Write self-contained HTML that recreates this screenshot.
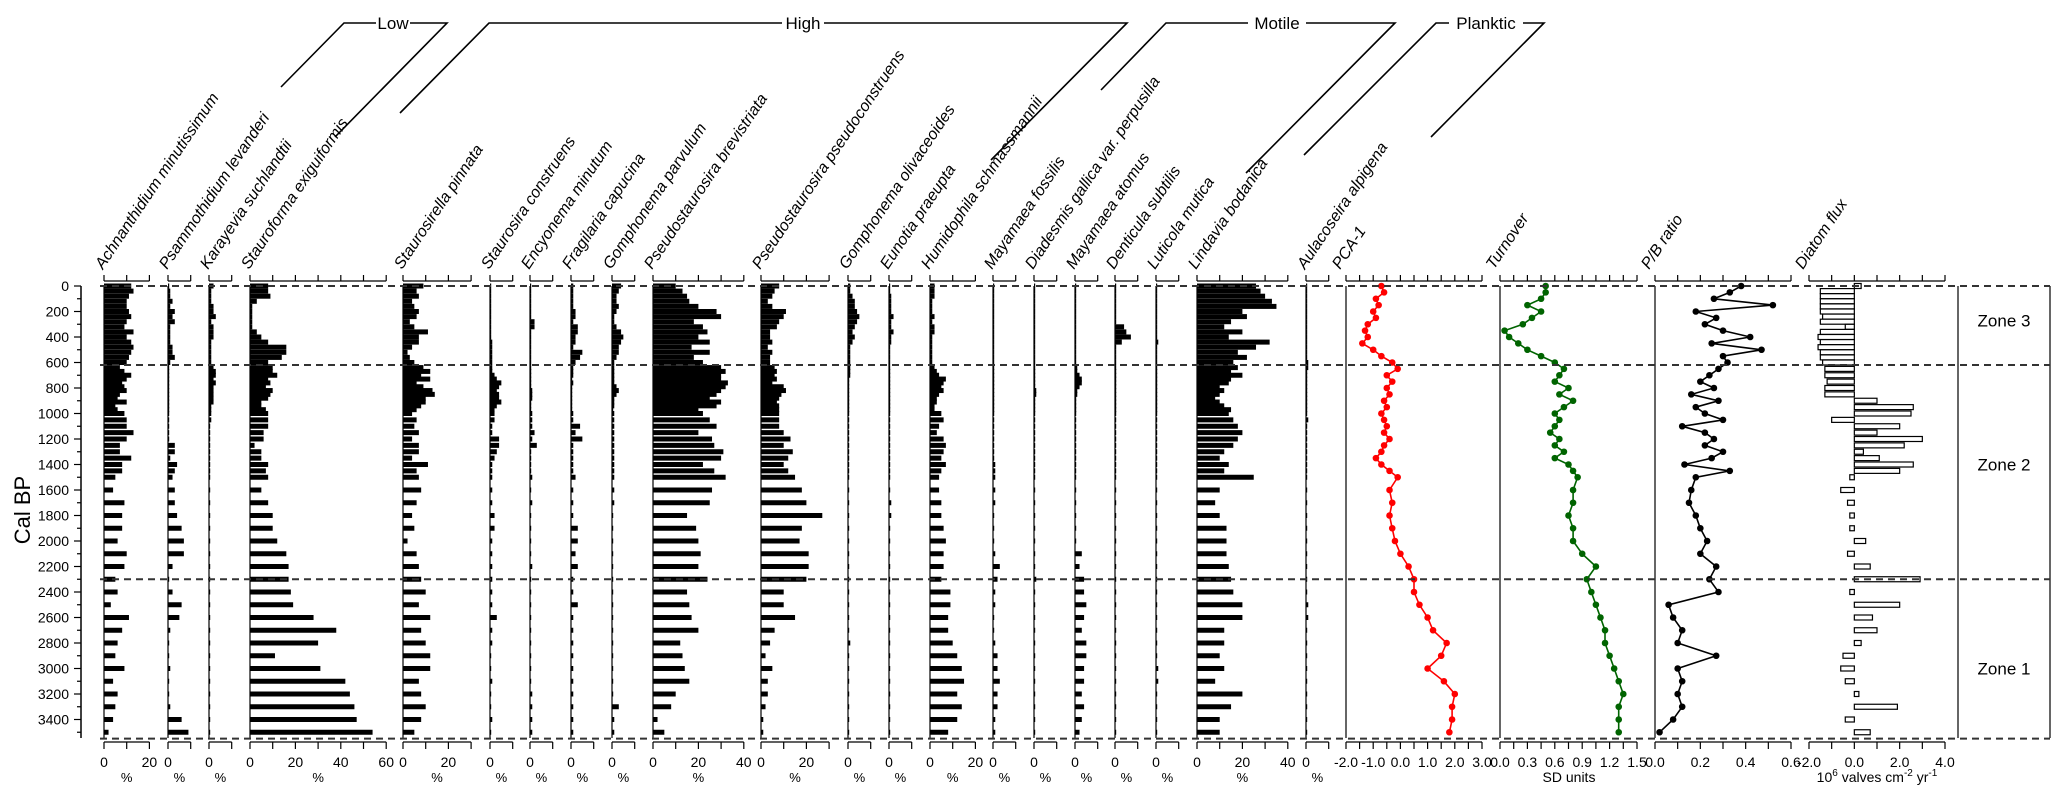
<!DOCTYPE html>
<html><head><meta charset="utf-8"><style>
html,body{margin:0;padding:0;background:#fff;}
svg{display:block;font-family:"Liberation Sans",Arial,sans-serif;}
</style></head><body>
<svg id="chart" width="2067" height="800" viewBox="0 0 2067 800" xmlns="http://www.w3.org/2000/svg"></svg>
<script>
// ---------- DATA ----------
const ages = [0,40,80,120,160,200,240,280,320,360,400,440,480,520,560,600,
 640,670,700,730,760,790,820,850,880,910,940,970,
 1000,1050,1100,1150,1200,1250,1300,1350,1400,1450,1500,
 1600,1700,1800,1900,2000,2100,2200,2300,2400,2500,2600,2700,2800,2900,3000,3100,3200,3300,3400,3500];
const taxaNames = ["Achnanthidium minutissimum","Psammothidium levanderi","Karayevia suchlandtii","Stauroforma exiguiformis","Staurosirella pinnata","Staurosira construens","Encyonema minutum","Fragilaria capucina","Gomphonema parvulum","Pseudostaurosira brevistriata","Pseudostaurosira pseudoconstruens","Gomphonema olivaceoides","Eunotia praeupta","Humidophila schmassmannii","Mayamaea fossilis","Diadesmis gallica var. perpusilla","Mayamaea atomus","Denticula subtilis","Luticola mutica","Lindavia bodanica","Aulacoseira alpigena"];
const achn = [12,13,11,10,10,11,12,10,9,13,10,12,13,12,11,10, 7,9,12,10,8,9,10,7,6,10,5,6, 9,10,10,13,10,7,7,12,8,8,5, 4,9,8,8,6,10,9,5,6,3,11,8,6,5,9,4,6,5,4,2];
const psam = [0,1,1,2,1,3,2,3,1,1,1,1,2,2,3,1, 0,0,0,0,0,0,0,0,0,0,0,0, 0,0,0,0,0,3,3,1,4,3,2, 3,3,4,6,7,7,2,0,2,6,5,1,0,0,1,0,0,1,6,9];
const kara = [2,1,1,1,2,2,3,1,2,2,2,1,1,1,1,1, 2,3,3,2,3,2,2,2,2,2,1,1, 1,1,0,0,0,0,0,0,0,0,0, 0,0,0,0,0,0,0,0,0,0,0,0,0,0,0,0,0,0,0,0];
const stfo = [8,8,9,3,1,1,1,1,1,3,5,8,16,16,14,8, 10,10,12,8,9,7,10,9,8,5,5,7, 8,8,8,6,6,2,5,5,8,7,8, 5,8,10,10,12,16,17,17,18,19,28,38,30,11,31,42,44,46,47,54];
const stpi = [9,6,7,4,5,7,6,3,5,11,7,7,4,2,3,5, 9,12,8,12,6,9,13,14,10,10,8,6, 4,6,5,7,4,7,7,4,11,6,7, 8,6,4,5,2,6,7,8,10,7,12,8,10,12,12,7,8,10,8,5];
const stco = [0,0,0,0,0,0,0,0,0,0,0,1,1,1,1,1, 1,1,2,3,5,4,3,4,4,5,3,2, 2,2,1,1,4,4,3,2,1,1,1, 1,1,2,2,1,1,1,1,1,1,3,1,1,0,0,1,0,0,1,0];
const ency = [0,0,0,0,0,0,0,2,2,0,0,0,0,0,0,0, 0,0,0,0,0,0,1,1,1,0,0,0, 1,1,1,2,1,3,0,0,0,0,1, 0,1,0,0,0,0,1,0,0,0,0,0,0,0,0,0,1,1,1,1];
const frag = [1,1,1,1,1,2,2,1,3,3,2,2,1,5,4,2, 1,1,1,0,1,0,0,0,0,0,0,0, 1,1,4,2,5,1,1,1,1,1,2, 1,1,1,3,3,2,3,1,1,3,1,1,1,1,1,1,1,1,1,1];
const gopa = [4,3,2,2,3,2,1,1,2,4,5,4,3,3,2,1, 1,1,1,1,1,2,3,2,1,1,1,0, 1,1,1,1,1,1,1,1,1,1,1, 1,1,0,0,0,0,0,0,0,0,0,0,0,0,0,0,0,3,1,1];
const psbr = [10,13,15,16,20,28,30,18,22,24,20,25,17,25,18,22, 30,32,30,30,33,32,30,28,25,30,28,20, 22,25,28,20,26,27,31,30,22,27,32, 26,25,15,19,20,21,20,24,15,16,17,20,12,13,14,16,10,8,2,5];
const pspc = [8,6,5,3,5,11,10,8,7,4,4,5,3,5,4,4, 6,7,6,7,5,10,11,9,8,7,8,8, 8,8,8,10,13,10,14,12,10,12,15, 18,20,27,18,17,21,21,20,10,10,15,6,4,2,5,3,3,2,1,1];
const gool = [1,1,2,3,3,4,5,4,3,2,3,2,1,1,1,1, 1,1,1,0,0,0,0,0,0,0,0,0, 0,0,0,0,0,0,0,0,0,0,0, 0,0,0,0,0,0,0,0,0,0,0,0,1,0,0,0,0,0,0,0];
const eupr = [0,0,1,1,1,1,2,1,1,2,1,1,0,0,0,0, 0,0,0,0,0,0,0,0,0,0,0,0, 0,0,0,0,0,0,0,0,0,0,0, 0,1,1,0,0,0,0,0,0,0,0,0,0,0,0,0,0,0,0,0];
const hums = [2,2,2,1,1,1,2,1,2,2,1,1,1,1,1,1, 2,3,4,7,6,5,6,4,3,3,2,2, 5,6,4,3,6,7,6,5,7,5,4, 4,5,5,6,7,6,6,5,9,9,8,8,10,12,14,15,12,14,12,8];
const mafo = [0,0,0,0,0,0,0,0,0,0,0,0,0,0,0,0, 0,0,0,0,0,0,0,0,0,0,0,0, 0,0,0,0,0,0,0,0,1,1,1, 1,1,0,0,0,1,3,2,1,1,0,0,1,2,2,3,2,2,1,1];
const diad = [0,0,0,0,0,0,0,0,0,0,0,0,0,0,0,0, 0,0,0,0,0,0,1,1,0,0,0,0, 0,0,0,0,0,0,0,0,0,0,0, 0,0,0,0,0,0,0,1,0,0,0,0,0,0,0,0,0,0,0,0];
const maat = [0,0,0,0,0,0,0,0,0,0,0,0,0,0,0,0, 1,1,2,3,3,2,1,1,0,0,0,0, 0,0,0,0,0,0,0,0,0,0,0, 0,0,0,0,0,3,2,4,4,5,4,3,5,5,4,4,3,4,3,2];
const desu = [0,0,0,0,0,0,0,0,4,5,7,3,0,0,0,0, 0,0,0,0,0,0,0,0,0,0,0,0, 0,0,0,0,0,0,0,0,0,0,0, 0,0,0,0,0,0,0,0,0,0,0,0,0,0,0,0,0,0,0,0];
const lumu = [0,0,0,0,0,0,0,0,0,0,0,1,0,0,0,0, 0,0,0,0,0,0,0,0,0,0,0,0, 0,0,0,0,0,0,0,0,0,0,0, 0,0,0,0,0,0,0,0,0,0,0,0,0,0,1,1,0,0,0,0];
const libo = [26,28,30,33,35,20,22,15,12,20,14,32,26,18,22,16, 18,15,20,15,14,10,12,10,8,10,12,15, 14,16,18,20,18,16,12,10,14,12,25, 10,8,10,13,13,13,14,15,16,20,20,12,12,10,12,8,20,15,10,10];
const aual = [0,0,0,0,0,0,0,0,0,0,0,0,0,0,0,1, 1,0,0,0,0,0,0,0,0,0,0,0, 0,1,0,0,0,0,0,0,0,0,0, 0,0,0,0,0,0,0,0,0,1,1,0,0,0,0,0,0,0,0,0];
const taxaValues = [achn,psam,kara,stfo,stpi,stco,ency,frag,gopa,psbr,pspc,gool,eupr,hums,mafo,diad,maat,desu,lumu,libo,aual];
const taxaMax = [20,10,10,60,30,10,10,10,10,40,30,10,10,20,10,10,10,10,10,40,10];
const taxaTickLabels = [[0,20],[0],[0],[0,20,40,60],[0,20],[0],[0],[0],[0],[0,20,40],[0,20],[0],[0],[0,20],[0],[0],[0],[0],[0],[0,20,40],[0]];

const curveAges = [0,50,100,150,200,250,300,350,400,450,500,550,600,650,700,750,800,850,900,950,1000,1050,1100,1150,1200,1250,1300,1350,1400,1450,1500,1600,1700,1800,1900,2000,2100,2200,2300,2400,2500,2600,2700,2800,2900,3000,3100,3200,3300,3400,3500];
const pca = [-0.7,-0.6,-0.9,-0.8,-1.0,-0.9,-1.2,-1.3,-1.2,-1.4,-1.0,-0.7,-0.3,-0.1,-0.5,-0.3,-0.5,-0.4,-0.6,-0.5,-0.7,-0.6,-0.5,-0.6,-0.4,-0.6,-0.7,-0.9,-0.7,-0.4,-0.1,-0.4,-0.3,-0.4,-0.3,-0.2,0.0,0.3,0.5,0.5,0.7,1.0,1.2,1.7,1.5,1.0,1.6,2.0,1.9,1.9,1.8];
const turnover = [0.5,0.5,0.45,0.3,0.45,0.35,0.25,0.05,0.1,0.2,0.3,0.45,0.6,0.7,0.65,0.6,0.75,0.65,0.8,0.7,0.6,0.65,0.6,0.55,0.65,0.6,0.7,0.6,0.75,0.8,0.85,0.8,0.8,0.75,0.8,0.8,0.9,1.05,0.95,1.0,1.05,1.1,1.15,1.15,1.2,1.25,1.3,1.35,1.3,1.3,1.3];
const pbRatio = [0.38,0.33,0.26,0.52,0.18,0.27,0.22,0.30,0.42,0.25,0.47,0.30,0.32,0.28,0.24,0.20,0.26,0.16,0.28,0.18,0.22,0.30,0.12,0.22,0.26,0.22,0.30,0.25,0.13,0.33,0.18,0.16,0.15,0.18,0.20,0.23,0.20,0.27,0.24,0.28,0.06,0.08,0.12,0.10,0.27,0.10,0.12,0.10,0.12,0.08,0.02];
const fluxAges = [0,40,80,120,160,200,240,280,320,360,400,440,480,520,560,600,650,700,750,800,850,900,950,1000,1050,1100,1150,1200,1250,1300,1350,1400,1450,1500,1600,1700,1800,1900,2000,2100,2200,2300,2400,2500,2600,2700,2800,2900,3000,3100,3200,3300,3400,3500];
const flux = [0.3,-1.5,-1.5,-1.5,-1.5,-1.5,-1.4,-1.5,-0.4,-1.5,-1.6,-1.5,-1.6,-1.5,-1.5,-1.4,-1.3,-1.3,-1.2,-1.3,-1.3,1.0,2.6,2.5,-1.0,2.0,1.0,3.0,2.2,0.4,1.1,2.6,2.0,-0.2,-0.6,-0.3,-0.2,-0.2,0.5,-0.3,0.7,2.9,-0.2,2.0,0.8,1.0,0.3,-0.5,-0.6,-0.4,0.2,1.9,-0.4,0.7];
const zoneNames = ["Zone 3","Zone 2","Zone 1"];
const zoneLabelAges = [270,1400,3000];
const zoneBoundaryAges = [0,620,2300,3550];
const yTickLabels = [0,200,400,600,800,1000,1200,1400,1600,1800,2000,2200,2400,2600,2800,3000,3200,3400];

// ---------- LAYOUT ----------
const NS="http://www.w3.org/2000/svg";
const svg=document.getElementById('chart');
const Y0=286, PXY=0.1275;
function yAge(a){return Y0+a*PXY;}
const PXP=2.27;
const ROT=-56;
const LABSIZE=16;
const taxaX=[104,168,209,250,403,490,530,571,612,653,761,848,889,930,993,1034,1075,1115,1156,1197,1306];
function mk(tag,attrs,parent){const e=document.createElementNS(NS,tag);for(const k in attrs)e.setAttribute(k,attrs[k]);(parent||svg).appendChild(e);return e;}
function txt(x,y,s,size,anchor,parent){const t=mk('text',{x:x,y:y,'font-size':size,'text-anchor':anchor||'middle',fill:'#000'},parent);t.textContent=s;return t;}

// Y axis
const yAxis=mk('g',{});


mk('line',{x1:81,y1:Y0,x2:81,y2:738,stroke:'#000','stroke-width':1.5},yAxis);
for(let a=0;a<=3500;a+=100){const maj=a%200===0;mk('line',{x1:maj?74:77,y1:yAge(a),x2:81,y2:yAge(a),stroke:'#000','stroke-width':1.2},yAxis);}
yTickLabels.forEach(v=>{const t=txt(69,yAge(v)+5,String(v),14,'end',yAxis);});
const ytitle=txt(0,0,'Cal BP',22,'middle',yAxis);
ytitle.setAttribute('transform','translate(30,510) rotate(-90)');



// taxa panels
taxaNames.forEach((name,i)=>{
  const x0=taxaX[i], max=taxaMax[i], x1=x0+max*PXP;
  const g=mk('g',{});
  
  
  mk('line',{x1:x0,y1:Y0,x2:x0,y2:738,stroke:'#000','stroke-width':1.2},g);
  mk('line',{x1:x0,y1:281,x2:x1,y2:281,stroke:'#000','stroke-width':1.2},g);
  mk('line',{x1:x0,y1:742,x2:x1,y2:742,stroke:'#000','stroke-width':1.2},g);
  for(let v=0;v<=max;v+=10){const x=x0+v*PXP;mk('line',{x1:x,y1:275,x2:x,y2:281,stroke:'#000','stroke-width':1.2},g);mk('line',{x1:x,y1:742,x2:x,y2:749,stroke:'#000','stroke-width':1.2},g);}
  taxaTickLabels[i].forEach(v=>{txt(x0+v*PXP,767,String(v),14,'middle',g);});
  txt((x0+x1)/2,782,'%',13,'middle',g);
  const lab=txt(0,0,name,LABSIZE,'start',g);
  lab.setAttribute('font-style','italic');
  lab.setAttribute('transform','translate('+(x0-1)+',270) rotate('+ROT+')');
  
  
  taxaValues[i].forEach((v,j)=>{
    const r=mk('rect',{x:x0,y:yAge(ages[j])-2.5,width:Math.max(v*PXP,1.2),height:5,fill:'#000'},g);
    
    
  });
});

// curve panels
function curvePanel(name,label,x0,x1,min,max,tickStep,labels,vals,color,leftLine){
  const g=mk('g',{});
  
  
  const sx=v=>x0+(v-min)/(max-min)*(x1-x0);
  if(leftLine) mk('line',{x1:x0,y1:Y0,x2:x0,y2:738,stroke:'#000','stroke-width':1.2},g);
  mk('line',{x1:x0,y1:281,x2:x1,y2:281,stroke:'#000','stroke-width':1.2},g);
  mk('line',{x1:x0,y1:742,x2:x1,y2:742,stroke:'#000','stroke-width':1.2},g);
  const n=Math.round((max-min)/tickStep);
  for(let k=0;k<=n;k++){const x=sx(min+k*tickStep);mk('line',{x1:x,y1:275,x2:x,y2:281,stroke:'#000','stroke-width':1.2},g);mk('line',{x1:x,y1:742,x2:x,y2:749,stroke:'#000','stroke-width':1.2},g);}
  labels.forEach(v=>{txt(sx(v),767,v.toFixed(1),14,'middle',g);});
  const lab=txt(0,0,label,LABSIZE,'start',g);
  lab.setAttribute('font-style','italic');
  lab.setAttribute('transform','translate('+(x0-6)+',270) rotate('+ROT+')');
  
  
  if(vals){
    const pts=vals.map((v,j)=>sx(v).toFixed(1)+','+yAge(curveAges[j]).toFixed(1)).join(' ');
    const pl=mk('polyline',{points:pts,fill:'none',stroke:color,'stroke-width':1.6},g);
    
    
    vals.forEach((v,j)=>{const c=mk('circle',{cx:sx(v),cy:yAge(curveAges[j]),r:2.8,fill:color,stroke:color},g);
      
      });
  }
  return {g,sx};
}
curvePanel('pca-panel','PCA-1',1346,1482,-2,3,0.5,[-2,-1,0,1,2,3],pca,'#ff0000',true);
curvePanel('turnover-panel','Turnover',1500,1637,0,1.5,0.15,[0,0.3,0.6,0.9,1.2,1.5],turnover,'#006400',true);
curvePanel('pb-ratio-panel','P/B ratio',1655,1791,0,0.6,0.1,[0,0.2,0.4,0.6],pbRatio,'#000',true);
const fp=curvePanel('flux-panel','Diatom flux',1809,1945,-2,4,1,[-2,0,2,4],null,'#000',false);
flux.forEach((v,j)=>{
  const x0=fp.sx(0), x1=fp.sx(v);
  const r=mk('rect',{x:Math.min(x0,x1),y:yAge(fluxAges[j])-2.5,width:Math.max(Math.abs(x1-x0),1),height:5,fill:'#fff',stroke:'#000','stroke-width':1.2},fp.g);
  
  
});
txt(1569,782,'SD units',14,'middle');
const ut=txt(1877,782,'',14,'middle');


ut.innerHTML='10<tspan dy="-6" font-size="10">6</tspan><tspan dy="6"> valves cm</tspan><tspan dy="-6" font-size="10">-2</tspan><tspan dy="6"> yr</tspan><tspan dy="-6" font-size="10">-1</tspan>';

// zone box
const zb=mk('g',{});


mk('line',{x1:1958,y1:Y0,x2:1958,y2:738,stroke:'#000','stroke-width':1.2},zb);
mk('line',{x1:2050,y1:Y0,x2:2050,y2:738,stroke:'#000','stroke-width':1.2},zb);
zoneNames.forEach((z,i)=>{const t=txt(2004,yAge(zoneLabelAges[i])+6,z,17,'middle',zb);});
zoneBoundaryAges.forEach(a=>{
  const l=mk('line',{x1:100,y1:yAge(a),x2:2050,y2:yAge(a),stroke:'#333','stroke-width':2,'stroke-dasharray':'7,5'});
  
  
});

// group brackets
function bracket(name,label,pts,tx){
  const g=mk('g',{});
  
  
  mk('polyline',{points:pts,fill:'none',stroke:'#000','stroke-width':1.6},g);
  const w=label.length*8+10;
  mk('rect',{x:tx-w/2,y:12,width:w,height:22,fill:'#fff'},g);
  txt(tx,29,label,17,'middle',g);
}
bracket('group-low','Low','281,87 344,23 447,23 335,137',393);
bracket('group-high','High','400,113 489,23 1127,23 991,160',803);
bracket('group-motile','Motile','1101,90 1166,23 1395,23 1246,173',1277);
bracket('group-planktic','Planktic','1304,155 1436,23 1544,23 1431,137',1486);
</script>
</body></html>
